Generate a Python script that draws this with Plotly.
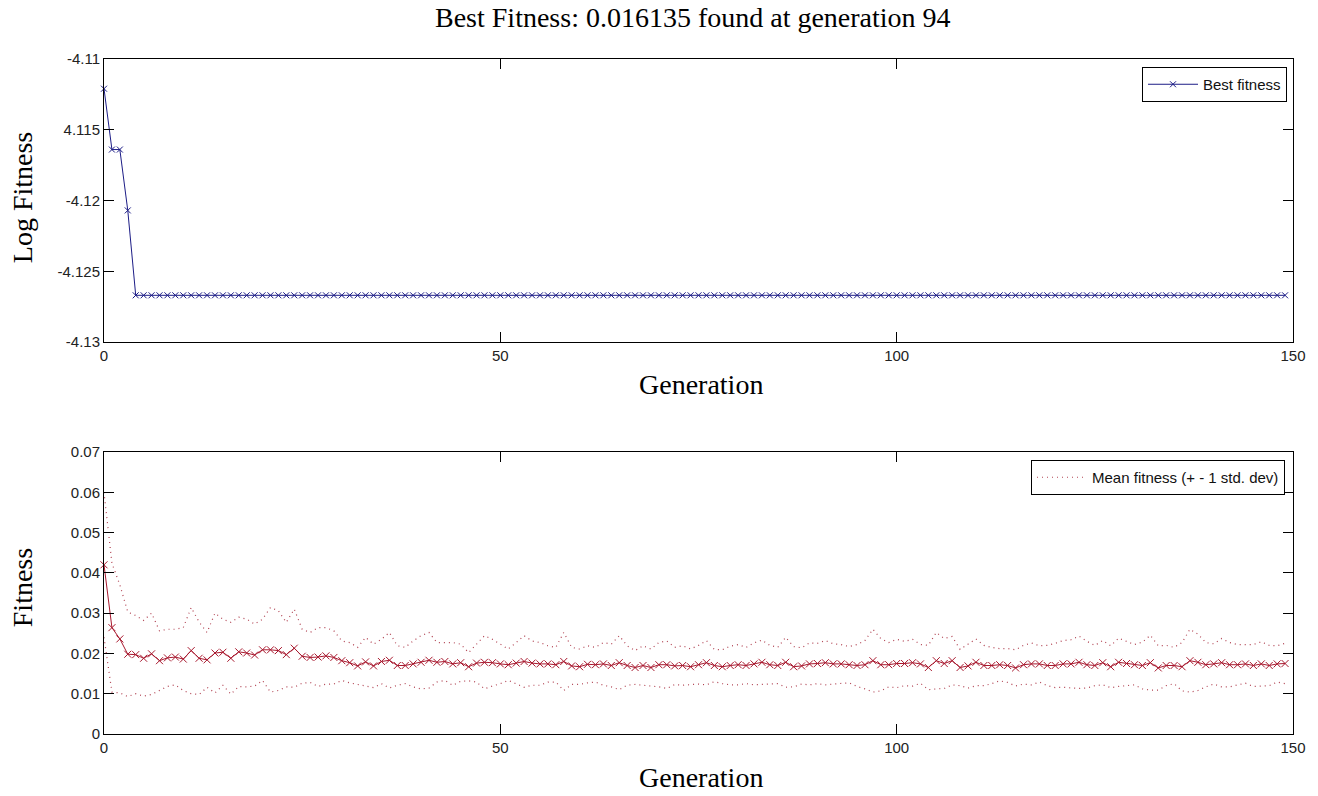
import plotly.graph_objects as go

# ---------------- data ----------------
generations = list(range(150))

best_log_fitness = [
    -4.1121, -4.1164, -4.1164, -4.1207, -4.1267, -4.1267, -4.1267, -4.1267, -4.1267, -4.1267,
    -4.1267, -4.1267, -4.1267, -4.1267, -4.1267, -4.1267, -4.1267, -4.1267, -4.1267, -4.1267,
    -4.1267, -4.1267, -4.1267, -4.1267, -4.1267, -4.1267, -4.1267, -4.1267, -4.1267, -4.1267,
    -4.1267, -4.1267, -4.1267, -4.1267, -4.1267, -4.1267, -4.1267, -4.1267, -4.1267, -4.1267,
    -4.1267, -4.1267, -4.1267, -4.1267, -4.1267, -4.1267, -4.1267, -4.1267, -4.1267, -4.1267,
    -4.1267, -4.1267, -4.1267, -4.1267, -4.1267, -4.1267, -4.1267, -4.1267, -4.1267, -4.1267,
    -4.1267, -4.1267, -4.1267, -4.1267, -4.1267, -4.1267, -4.1267, -4.1267, -4.1267, -4.1267,
    -4.1267, -4.1267, -4.1267, -4.1267, -4.1267, -4.1267, -4.1267, -4.1267, -4.1267, -4.1267,
    -4.1267, -4.1267, -4.1267, -4.1267, -4.1267, -4.1267, -4.1267, -4.1267, -4.1267, -4.1267,
    -4.1267, -4.1267, -4.1267, -4.1267, -4.1267, -4.1267, -4.1267, -4.1267, -4.1267, -4.1267,
    -4.1267, -4.1267, -4.1267, -4.1267, -4.1267, -4.1267, -4.1267, -4.1267, -4.1267, -4.1267,
    -4.1267, -4.1267, -4.1267, -4.1267, -4.1267, -4.1267, -4.1267, -4.1267, -4.1267, -4.1267,
    -4.1267, -4.1267, -4.1267, -4.1267, -4.1267, -4.1267, -4.1267, -4.1267, -4.1267, -4.1267,
    -4.1267, -4.1267, -4.1267, -4.1267, -4.1267, -4.1267, -4.1267, -4.1267, -4.1267, -4.1267,
    -4.1267, -4.1267, -4.1267, -4.1267, -4.1267, -4.1267, -4.1267, -4.1267, -4.1267, -4.1267,
]

mean_fitness = [
    0.0420, 0.0264, 0.0236, 0.0198, 0.0197, 0.0188, 0.0199, 0.0182, 0.0189, 0.0191,
    0.0186, 0.0207, 0.0188, 0.0184, 0.0201, 0.0203, 0.0188, 0.0204, 0.0201, 0.0196,
    0.0209, 0.0209, 0.0207, 0.0197, 0.0213, 0.0193, 0.0190, 0.0191, 0.0194, 0.0190,
    0.0182, 0.0177, 0.0169, 0.0179, 0.0169, 0.0180, 0.0183, 0.0170, 0.0170, 0.0174,
    0.0178, 0.0183, 0.0178, 0.0180, 0.0174, 0.0177, 0.0167, 0.0176, 0.0178, 0.0177,
    0.0174, 0.0172, 0.0176, 0.0180, 0.0176, 0.0174, 0.0174, 0.0172, 0.0180, 0.0169,
    0.0167, 0.0173, 0.0172, 0.0174, 0.0170, 0.0177, 0.0170, 0.0165, 0.0170, 0.0165,
    0.0172, 0.0172, 0.0169, 0.0170, 0.0167, 0.0172, 0.0177, 0.0170, 0.0167, 0.0170,
    0.0172, 0.0170, 0.0174, 0.0178, 0.0172, 0.0170, 0.0178, 0.0167, 0.0169, 0.0174,
    0.0175, 0.0177, 0.0174, 0.0174, 0.0172, 0.0170, 0.0172, 0.0182, 0.0172, 0.0172,
    0.0175, 0.0175, 0.0177, 0.0174, 0.0165, 0.0182, 0.0175, 0.0182, 0.0165, 0.0169,
    0.0178, 0.0170, 0.0170, 0.0172, 0.0170, 0.0164, 0.0172, 0.0174, 0.0174, 0.0170,
    0.0170, 0.0174, 0.0174, 0.0178, 0.0172, 0.0170, 0.0177, 0.0167, 0.0178, 0.0175,
    0.0172, 0.0170, 0.0177, 0.0164, 0.0170, 0.0170, 0.0167, 0.0182, 0.0178, 0.0172,
    0.0174, 0.0177, 0.0172, 0.0172, 0.0174, 0.0170, 0.0174, 0.0170, 0.0174, 0.0175,
]

std_fitness = [
    0.0180, 0.0160, 0.0134, 0.0105, 0.0097, 0.0094, 0.0101, 0.0074, 0.0071, 0.0069,
    0.0078, 0.0107, 0.0090, 0.0068, 0.0099, 0.0082, 0.0089, 0.0086, 0.0084, 0.0077,
    0.0076, 0.0105, 0.0099, 0.0080, 0.0097, 0.0067, 0.0062, 0.0073, 0.0070, 0.0066,
    0.0049, 0.0050, 0.0046, 0.0061, 0.0054, 0.0055, 0.0069, 0.0049, 0.0045, 0.0057,
    0.0066, 0.0069, 0.0049, 0.0047, 0.0053, 0.0046, 0.0035, 0.0047, 0.0066, 0.0058,
    0.0049, 0.0039, 0.0051, 0.0064, 0.0055, 0.0053, 0.0045, 0.0043, 0.0072, 0.0046,
    0.0044, 0.0046, 0.0043, 0.0053, 0.0053, 0.0067, 0.0049, 0.0042, 0.0049, 0.0046,
    0.0055, 0.0059, 0.0046, 0.0049, 0.0044, 0.0048, 0.0055, 0.0040, 0.0042, 0.0048,
    0.0050, 0.0045, 0.0052, 0.0055, 0.0048, 0.0045, 0.0062, 0.0050, 0.0045, 0.0052,
    0.0050, 0.0055, 0.0050, 0.0048, 0.0045, 0.0052, 0.0060, 0.0078, 0.0065, 0.0055,
    0.0060, 0.0055, 0.0058, 0.0048, 0.0055, 0.0070, 0.0062, 0.0060, 0.0045, 0.0055,
    0.0058, 0.0050, 0.0045, 0.0040, 0.0042, 0.0045, 0.0048, 0.0052, 0.0045, 0.0050,
    0.0055, 0.0058, 0.0060, 0.0065, 0.0058, 0.0050, 0.0055, 0.0052, 0.0060, 0.0055,
    0.0050, 0.0058, 0.0068, 0.0055, 0.0050, 0.0045, 0.0060, 0.0078, 0.0070, 0.0055,
    0.0050, 0.0060, 0.0055, 0.0050, 0.0048, 0.0052, 0.0055, 0.0050, 0.0045, 0.0050,
]

x_tick_vals = [0, 50, 100, 150]
x_tick_text = ["0", "50", "100", "150"]
top_y_tick_vals = [-4.13, -4.125, -4.12, -4.115, -4.11]
top_y_tick_text = ["-4.13", "-4.125", "-4.12", "4.115", "-4.11"]
bottom_y_tick_vals = [0, 0.01, 0.02, 0.03, 0.04, 0.05, 0.06, 0.07]
bottom_y_tick_text = ["0", "0.01", "0.02", "0.03", "0.04", "0.05", "0.06", "0.07"]

title_text = "Best Fitness: 0.016135 found at generation 94"

upper_band = [m + s for m, s in zip(mean_fitness, std_fitness)]
lower_band = [m - s for m, s in zip(mean_fitness, std_fitness)]

# ---------------- figure ----------------
W, H = 1318, 796
ML, MR, MT, MB = 104, 22, 59, 62
plot_h = H - MT - MB
plot_w = W - ML - MR


def py(y_px):
    return (H - MB - y_px) / plot_h


def px(x_px):
    return (x_px - ML) / plot_w


BLUE = "#1c1c86"
RED = "#a8182e"
DOT_RED = "#b04050"

fig = go.Figure()

fig.add_trace(go.Scatter(
    x=generations, y=best_log_fitness, mode="lines+markers",
    name="Best fitness", xaxis="x", yaxis="y",
    line=dict(color=BLUE, width=1),
    marker=dict(symbol="x-thin", size=6, line=dict(color=BLUE, width=1)),
    cliponaxis=False, legend="legend",
))

fig.add_trace(go.Scatter(
    x=generations, y=upper_band, mode="lines",
    name="Mean fitness (+ - 1 std. dev)", xaxis="x2", yaxis="y2",
    line=dict(color=DOT_RED, width=1.2, dash="1px,4px"),
    legend="legend2", showlegend=True,
))
fig.add_trace(go.Scatter(
    x=generations, y=lower_band, mode="lines",
    name="lower", xaxis="x2", yaxis="y2",
    line=dict(color=DOT_RED, width=1.2, dash="1px,4px"),
    legend="legend2", showlegend=False,
))
fig.add_trace(go.Scatter(
    x=generations, y=mean_fitness, mode="lines+markers",
    name="Mean fitness", xaxis="x2", yaxis="y2",
    line=dict(color=RED, width=1),
    marker=dict(symbol="x-thin", size=7, line=dict(color=RED, width=1)),
    cliponaxis=False, legend="legend2", showlegend=False,
))

tick_font = dict(family="Liberation Sans, Arial", size=15, color="#222222")
axis_common = dict(
    showline=True, linecolor="black", linewidth=1, mirror="ticks",
    ticks="inside", ticklen=10, tickcolor="black", tickwidth=1,
    showgrid=False, zeroline=False, tickfont=tick_font,
)

top_domain = [py(342), 1.0]
bottom_domain = [0.0, py(452)]

legend_font = dict(family="Liberation Sans, Arial", size=15, color="#111111")

fig.update_layout(
    width=W, height=H,
    margin=dict(l=ML, r=MR, t=MT, b=MB),
    paper_bgcolor="white", plot_bgcolor="white",
    xaxis=dict(domain=[0, 1], anchor="y", range=[0, 150],
               tickvals=x_tick_vals, ticktext=x_tick_text, **axis_common),
    yaxis=dict(domain=top_domain, anchor="x", range=[-4.13, -4.11],
               tickvals=top_y_tick_vals, ticktext=top_y_tick_text, **axis_common),
    xaxis2=dict(domain=[0, 1], anchor="y2", range=[0, 150],
                tickvals=x_tick_vals, ticktext=x_tick_text, **axis_common),
    yaxis2=dict(domain=bottom_domain, anchor="x2", range=[0, 0.07],
                tickvals=bottom_y_tick_vals, ticktext=bottom_y_tick_text, **axis_common),
    legend=dict(x=px(1290), y=py(67), xanchor="right", yanchor="top",
                bgcolor="white", bordercolor="black", borderwidth=1,
                itemwidth=50, font=legend_font),
    legend2=dict(x=px(1288), y=py(460), xanchor="right", yanchor="top",
                 bgcolor="white", bordercolor="black", borderwidth=1,
                 itemwidth=50, font=legend_font),
    showlegend=True,
)

serif = dict(family="Liberation Serif, Times New Roman", size=28, color="black")
annotations = [
    dict(text=title_text, x=px(694), y=py(0), xref="paper", yref="paper",
         showarrow=False, xanchor="center", yanchor="top", font=serif),
    dict(text="Generation", x=px(703), y=py(384), xref="paper", yref="paper",
         showarrow=False, xanchor="center", yanchor="middle", font=serif),
    dict(text="Generation", x=px(703), y=py(795), xref="paper", yref="paper",
         showarrow=False, xanchor="center", yanchor="bottom", font=serif),
    dict(text="Log Fitness", x=px(22), y=py(198), xref="paper", yref="paper",
         showarrow=False, xanchor="center", yanchor="middle", textangle=-90, font=serif),
    dict(text="Fitness", x=px(22), y=py(588), xref="paper", yref="paper",
         showarrow=False, xanchor="center", yanchor="middle", textangle=-90, font=serif),
]
fig.update_layout(annotations=annotations)

# remove the browser's default 8px body margin so the figure fills the window exactly
fig.write_html(
    "out.html",
    config={"displayModeBar": False},
    post_script="document.body.style.margin='0';document.body.style.overflow='hidden';",
)
